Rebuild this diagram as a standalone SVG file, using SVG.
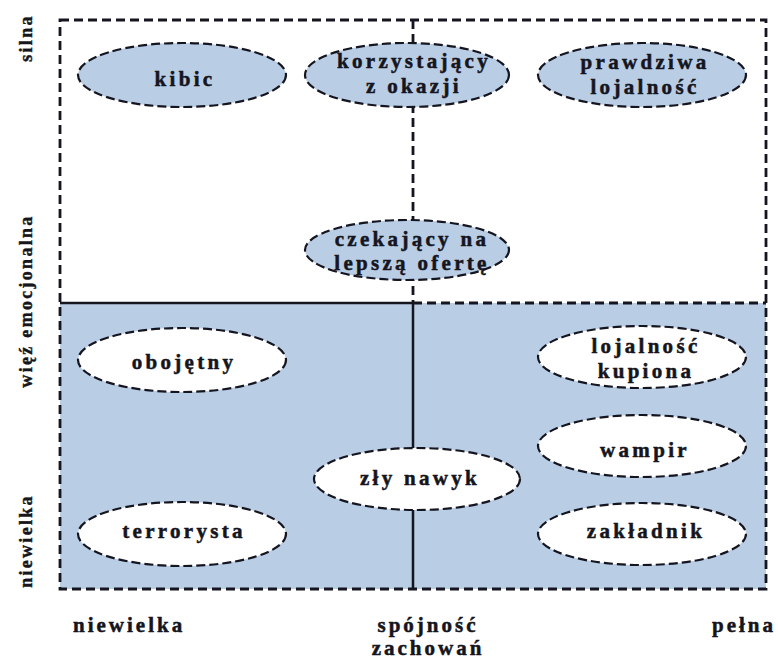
<svg xmlns="http://www.w3.org/2000/svg" width="778" height="660" viewBox="0 0 778 660">
<style>
.t{font-family:"Liberation Serif","Times New Roman",serif;font-weight:bold;font-size:21px;fill:#151520;stroke:#151520;stroke-width:0.5;text-anchor:middle;letter-spacing:3.3px}
.ax{font-family:"Liberation Serif","Times New Roman",serif;font-weight:bold;font-size:21px;fill:#151520;stroke:#151520;stroke-width:0.5;letter-spacing:3px}
.axv{font-family:"Liberation Serif","Times New Roman",serif;font-weight:bold;font-size:18px;fill:#151520;stroke:#151520;stroke-width:0.4;text-anchor:middle;letter-spacing:2.3px}
.eb{fill:#b9cde5;stroke:#151520;stroke-width:2.2;stroke-dasharray:9 4}
.ew{fill:#ffffff;stroke:#151520;stroke-width:2.2;stroke-dasharray:9 4}
.dash{fill:none;stroke:#151520;stroke-width:2.8;stroke-dasharray:9 5}
.solid{fill:none;stroke:#151520;stroke-width:2.5}
</style>
<rect width="778" height="660" fill="#ffffff"/>
<rect x="60" y="303" width="706" height="286" fill="#b9cde5"/>
<g id="grid">
<rect class="dash" x="60" y="20" width="706" height="569"/>
<line class="solid" x1="60" y1="303" x2="413" y2="303"/>
<line class="dash" x1="413" y1="303" x2="766" y2="303"/>
<line class="dash" x1="413" y1="20" x2="413" y2="303"/>
<line class="solid" x1="413" y1="303" x2="413" y2="589"/>
</g>
<g id="connectors"></g>
<g id="kibic"><ellipse class="eb" cx="182" cy="75" rx="104" ry="32"/><text class="t" x="185" y="86">kibic</text></g>
<g id="korzystajacy"><ellipse class="eb" cx="407" cy="75" rx="102" ry="32"/><text class="t" x="414" y="68">korzystający</text><text class="t" x="414" y="93">z okazji</text></g>
<g id="prawdziwa"><ellipse class="eb" cx="642" cy="75" rx="104" ry="32"/><text class="t" x="645" y="69">prawdziwa</text><text class="t" x="645" y="94">lojalność</text></g>
<g id="czekajacy"><ellipse class="eb" cx="407" cy="250" rx="102" ry="30"/><text class="t" x="412" y="246">czekający na</text><text class="t" x="412" y="270">lepszą ofertę</text></g>
<g id="obojetny"><ellipse class="ew" cx="182" cy="360" rx="104" ry="32"/><text class="t" x="184" y="369">obojętny</text></g>
<g id="terrorysta"><ellipse class="ew" cx="182" cy="534" rx="104" ry="32"/><text class="t" x="184" y="538">terrorysta</text></g>
<g id="zly_nawyk"><ellipse class="ew" cx="417" cy="479" rx="103" ry="31"/><text class="t" x="420" y="485">zły nawyk</text></g>
<g id="lojalnosc_kupiona"><ellipse class="ew" cx="642" cy="357" rx="104" ry="31"/><text class="t" x="646" y="353">lojalność</text><text class="t" x="646" y="378">kupiona</text></g>
<g id="wampir"><ellipse class="ew" cx="642" cy="446" rx="104" ry="31"/><text class="t" x="645" y="457">wampir</text></g>
<g id="zakladnik"><ellipse class="ew" cx="642" cy="534" rx="104" ry="31"/><text class="t" x="646" y="538">zakładnik</text></g>
<g id="axes">
<text class="axv" transform="translate(32 38) rotate(-90)">silna</text>
<text class="axv" transform="translate(32 301) rotate(-90)">więź emocjonalna</text>
<text class="axv" transform="translate(32 541) rotate(-90)">niewielka</text>
<text class="ax" x="73" y="632">niewielka</text>
<text class="ax" x="428" y="632" text-anchor="middle">spójność</text>
<text class="ax" x="428" y="655" text-anchor="middle">zachowań</text>
<text class="ax" x="712" y="632">pełna</text>
</g>
</svg>
